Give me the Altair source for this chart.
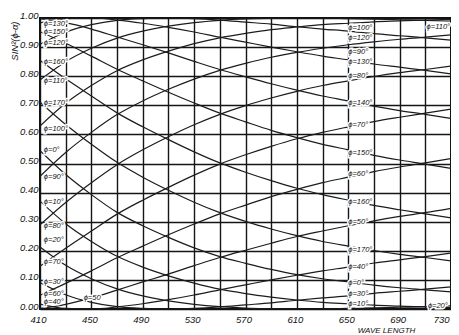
import altair as alt
import pandas as pd

# wavelength in millimicrons (sampled every 20)
wavelength = [410, 430, 450, 470, 490, 510, 530, 550, 570, 590, 610, 630, 650, 670, 690, 710, 730]

# sin^2(phi - alpha)
phi_0 = [0.544, 0.462, 0.393, 0.332, 0.286, 0.246, 0.210, 0.180, 0.157, 0.136, 0.118, 0.104, 0.093, 0.082, 0.073, 0.066, 0.059]
phi_10 = [0.371, 0.293, 0.232, 0.181, 0.144, 0.114, 0.089, 0.068, 0.053, 0.041, 0.031, 0.023, 0.018, 0.013, 0.010, 0.007, 0.005]
phi_20 = [0.213, 0.150, 0.104, 0.069, 0.045, 0.028, 0.016, 0.008, 0.003, 0.001, 0.000, 0.000, 0.002, 0.004, 0.006, 0.008, 0.011]
phi_30 = [0.091, 0.049, 0.023, 0.008, 0.002, 0.000, 0.002, 0.007, 0.014, 0.021, 0.030, 0.038, 0.045, 0.054, 0.061, 0.068, 0.076]
phi_40 = [0.017, 0.002, 0.000, 0.007, 0.018, 0.032, 0.048, 0.066, 0.083, 0.100, 0.116, 0.131, 0.144, 0.158, 0.169, 0.180, 0.192]
phi_50 = [0.002, 0.016, 0.038, 0.065, 0.093, 0.120, 0.149, 0.177, 0.202, 0.226, 0.249, 0.268, 0.286, 0.303, 0.318, 0.331, 0.346]
phi_60 = [0.047, 0.088, 0.131, 0.176, 0.216, 0.255, 0.292, 0.327, 0.357, 0.386, 0.411, 0.434, 0.453, 0.472, 0.488, 0.502, 0.517]
phi_70 = [0.147, 0.209, 0.268, 0.326, 0.374, 0.418, 0.460, 0.498, 0.530, 0.559, 0.585, 0.607, 0.626, 0.644, 0.659, 0.673, 0.687]
phi_80 = [0.289, 0.366, 0.434, 0.496, 0.547, 0.592, 0.633, 0.669, 0.699, 0.725, 0.748, 0.768, 0.784, 0.799, 0.812, 0.823, 0.835]
phi_90 = [0.456, 0.538, 0.607, 0.668, 0.715, 0.755, 0.790, 0.820, 0.844, 0.865, 0.882, 0.896, 0.908, 0.918, 0.927, 0.934, 0.942]
phi_100 = [0.629, 0.707, 0.768, 0.819, 0.856, 0.886, 0.912, 0.932, 0.947, 0.960, 0.969, 0.977, 0.982, 0.987, 0.990, 0.993, 0.995]
phi_110 = [0.787, 0.850, 0.896, 0.931, 0.955, 0.972, 0.984, 0.992, 0.997, 0.999, 1.000, 1.000, 0.998, 0.996, 0.994, 0.992, 0.989]
phi_120 = [0.910, 0.951, 0.977, 0.992, 0.998, 1.000, 0.998, 0.993, 0.986, 0.979, 0.970, 0.962, 0.955, 0.946, 0.939, 0.932, 0.924]
phi_130 = [0.983, 0.998, 1.000, 0.993, 0.982, 0.968, 0.952, 0.934, 0.917, 0.900, 0.884, 0.869, 0.856, 0.842, 0.831, 0.820, 0.808]
phi_140 = [0.998, 0.984, 0.962, 0.935, 0.908, 0.880, 0.851, 0.823, 0.798, 0.774, 0.752, 0.732, 0.715, 0.697, 0.682, 0.669, 0.655]
phi_150 = [0.953, 0.913, 0.869, 0.824, 0.784, 0.745, 0.708, 0.673, 0.643, 0.614, 0.589, 0.566, 0.547, 0.528, 0.512, 0.498, 0.483]
phi_160 = [0.854, 0.791, 0.732, 0.674, 0.626, 0.582, 0.540, 0.502, 0.470, 0.441, 0.415, 0.393, 0.374, 0.356, 0.341, 0.327, 0.313]
phi_170 = [0.711, 0.634, 0.566, 0.504, 0.453, 0.408, 0.367, 0.331, 0.301, 0.275, 0.252, 0.232, 0.216, 0.201, 0.188, 0.177, 0.165]

series = {
    0: phi_0, 10: phi_10, 20: phi_20, 30: phi_30, 40: phi_40, 50: phi_50,
    60: phi_60, 70: phi_70, 80: phi_80, 90: phi_90, 100: phi_100, 110: phi_110,
    120: phi_120, 130: phi_130, 140: phi_140, 150: phi_150, 160: phi_160, 170: phi_170,
}

# curve labels (as written on the chart)
label_text = [
    "ϕ=130°", "ϕ=150°", "ϕ=120°", "ϕ=160°", "ϕ=110°", "ϕ=170°", "ϕ=100°", "ϕ=0°",
    "ϕ=90°", "ϕ=10°", "ϕ=80°", "ϕ=20°", "ϕ=70°", "ϕ=30°", "ϕ=60°", "ϕ=40°",
    "ϕ=100°", "ϕ=120°", "ϕ=90°", "ϕ=130°", "ϕ=80°", "ϕ=140°", "ϕ=70°", "ϕ=150°",
    "ϕ=60°", "ϕ=160°", "ϕ=50°", "ϕ=170°", "ϕ=40°", "ϕ=0°", "ϕ=30°", "ϕ=10°",
    "ϕ=110°", "ϕ=20°", "ϕ=50",
]
label_wl = [413] * 16 + [650] * 16 + [711, 712, 444]
label_val = [
    0.978, 0.952, 0.913, 0.850, 0.784, 0.707, 0.619, 0.546,
    0.454, 0.369, 0.286, 0.237, 0.163, 0.094, 0.051, 0.024,
    0.966, 0.932, 0.884, 0.850, 0.801, 0.707, 0.632, 0.537,
    0.464, 0.369, 0.299, 0.203, 0.145, 0.090, 0.050, 0.017,
    0.970, 0.012, 0.038,
]

grid_x = [410, 430, 450, 470, 490, 510, 530, 550, 570, 590, 610, 630, 650, 670, 690, 710, 730]
grid_y = [0.0, 0.1, 0.2, 0.3, 0.4, 0.5, 0.6, 0.7, 0.8, 0.9, 1.0]

rows = []
for phi, vals in series.items():
    for wl, v in zip(wavelength, vals):
        rows.append({"phi": phi, "wavelength": wl, "value": v})
curves = pd.DataFrame(rows)
labels = pd.DataFrame({"text": label_text, "wavelength": label_wl, "value": label_val})

FONT = "Liberation Sans"

xscale = alt.Scale(domain=[410, 730], nice=False, zero=False)
yscale = alt.Scale(domain=[0, 1], nice=False, zero=False)

xaxis = alt.Axis(
    values=grid_x, grid=True, ticks=False, domain=False,
    labelExpr="datum.value % 40 == 10 ? datum.label : ''",
    labelOverlap=False,
    labelAlign={"condition": {"test": "datum.value >= 730", "value": "right"}, "value": "center"},
    labelFont=FONT, labelFontStyle="italic", labelFontSize=9.5,
    labelColor="#111", labelPadding=5, labelOffset=-2, labelFlush=False,
    title="WAVE LENGTH", titleFont=FONT, titleFontStyle="italic",
    titleFontSize=8, titleFontWeight="normal", titleColor="#111",
    titleX=346, titleY=17, titleBaseline="top", titleAlign="center",
)
yaxis = alt.Axis(
    values=grid_y, grid=True, ticks=False, domain=False, format=".2f",
    labelOverlap=False,
    labelFont=FONT, labelFontStyle="italic", labelFontSize=9.5,
    labelColor="#111", labelPadding=2, labelBaseline="alphabetic",
    labelFlush=False,
    title="SIN²(ϕ-α)", titleFont=FONT, titleFontStyle="italic",
    titleFontSize=9.5, titleFontWeight="normal", titleColor="#111",
    titleX=-26, titleY=3, titleAngle=-90, titleAlign="right",
    titleBaseline="middle",
)

X = alt.X("wavelength:Q", scale=xscale, axis=xaxis, title="WAVE LENGTH")
Y = alt.Y("value:Q", scale=yscale, axis=yaxis, title="SIN²(ϕ-α)")

lines = alt.Chart(curves).mark_line(
    interpolate="monotone", stroke="#1c1c1c", strokeWidth=1.2, clip=True
).encode(x=X, y=Y, detail="phi:N")

halo = alt.Chart(labels).mark_text(
    align="left", baseline="middle", font=FONT, fontStyle="italic", fontSize=7.5,
    fill="white", stroke="white", strokeWidth=3,
).encode(x=X, y=Y, text="text:N")

text = alt.Chart(labels).mark_text(
    align="left", baseline="middle", font=FONT, fontStyle="italic", fontSize=7.5,
    fill="#111",
).encode(x=X, y=Y, text="text:N")

chart = alt.layer(lines, halo, text).properties(
    width=411, height=291,
    padding={"left": 32, "top": 10, "right": 0, "bottom": 26},
    autosize=alt.AutoSizeParams(type="none"),
    background="white",
).configure_axis(
    gridColor="#151515", gridWidth=1.4, gridOpacity=1,
).configure_view(
    stroke="#111", strokeWidth=2,
)

chart.save("out.html", embed_options={"renderer": "svg", "actions": False})
